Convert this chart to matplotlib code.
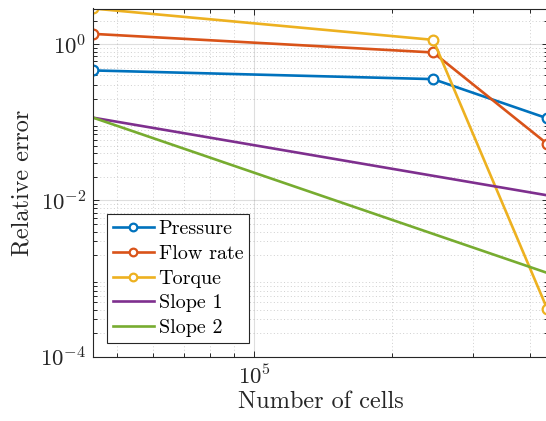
import matplotlib
matplotlib.use('Agg')
import matplotlib.pyplot as plt
from matplotlib.ticker import LogLocator, NullFormatter

# data
cells = [44400, 246000, 437000]
pressure = [0.461, 0.357, 0.1125]
flow_rate = [1.354, 0.783, 0.053]
torque = [2.86, 1.135, 4.09e-4]
slope_x = [44400, 437000]
slope1 = [0.1145, 0.01163]
slope2 = [0.1145, 0.001182]

blue = '#0072BD'
orange = '#D95319'
yellow = '#EDB120'
purple = '#7E2F8E'
green = '#77AC30'
dark = '#262626'

plt.rcParams['mathtext.fontset'] = 'cm'
plt.rcParams['font.family'] = 'cmr10'
plt.rcParams['axes.formatter.use_mathtext'] = True

fig = plt.figure(figsize=(5.46, 4.21), dpi=100)
ax = fig.add_axes([93.3 / 546, 64.3 / 421, 454.5 / 546, 348.2 / 421])

mk = dict(marker='o', markersize=7, markerfacecolor='white', markeredgewidth=1.6)
ax.plot(cells, pressure, color=blue, lw=1.9, label='Pressure', **mk)
ax.plot(cells, flow_rate, color=orange, lw=1.9, label='Flow rate', **mk)
ax.plot(cells, torque, color=yellow, lw=1.9, label='Torque', **mk)
ax.plot(slope_x, slope1, color=purple, lw=1.9, label='Slope 1')
ax.plot(slope_x, slope2, color=green, lw=1.9, label='Slope 2')

ax.set_xscale('log')
ax.set_yscale('log')
ax.set_xlim(cells[0], cells[-1] * 1.003)
ax.set_ylim(1e-4, 2.86)

ax.yaxis.set_major_locator(LogLocator(base=10, subs=(1.0,), numticks=10))
ax.yaxis.set_minor_locator(LogLocator(base=10, subs=range(2, 10), numticks=20))
ax.yaxis.set_minor_formatter(NullFormatter())
ax.set_yticks([1e-4, 1e-2, 1e0])
ax.xaxis.set_minor_formatter(NullFormatter())

ax.grid(True, which='major', color=dark, alpha=0.15, lw=0.8)
ax.grid(True, which='minor', color=dark, alpha=0.22, lw=0.7, linestyle=(0, (1, 2.5)))
ax.set_axisbelow(True)

for s in ax.spines.values():
    s.set_color(dark)
    s.set_linewidth(0.8)
ax.tick_params(which='both', direction='in', top=True, right=True, colors=dark,
               labelsize=16.5, length=4, width=0.7, pad=5)
ax.tick_params(which='minor', length=3)

ax.set_xlabel('Number of cells', fontsize=17.5, color=dark, labelpad=2)
ax.set_ylabel('Relative error', fontsize=17.5, color=dark, labelpad=5)

leg = ax.legend(loc='lower left', bbox_to_anchor=(14 / 454.5, 14 / 348.2), fontsize=14.5,
                frameon=True, fancybox=False, framealpha=1, edgecolor=dark,
                handlelength=2.0, handletextpad=0.25, borderpad=0.3, labelspacing=0.32,
                borderaxespad=0)
leg.get_frame().set_linewidth(0.8)
for h in leg.legend_handles:
    h.set_markersize(5.5)

fig.savefig('out.png', dpi=100)
